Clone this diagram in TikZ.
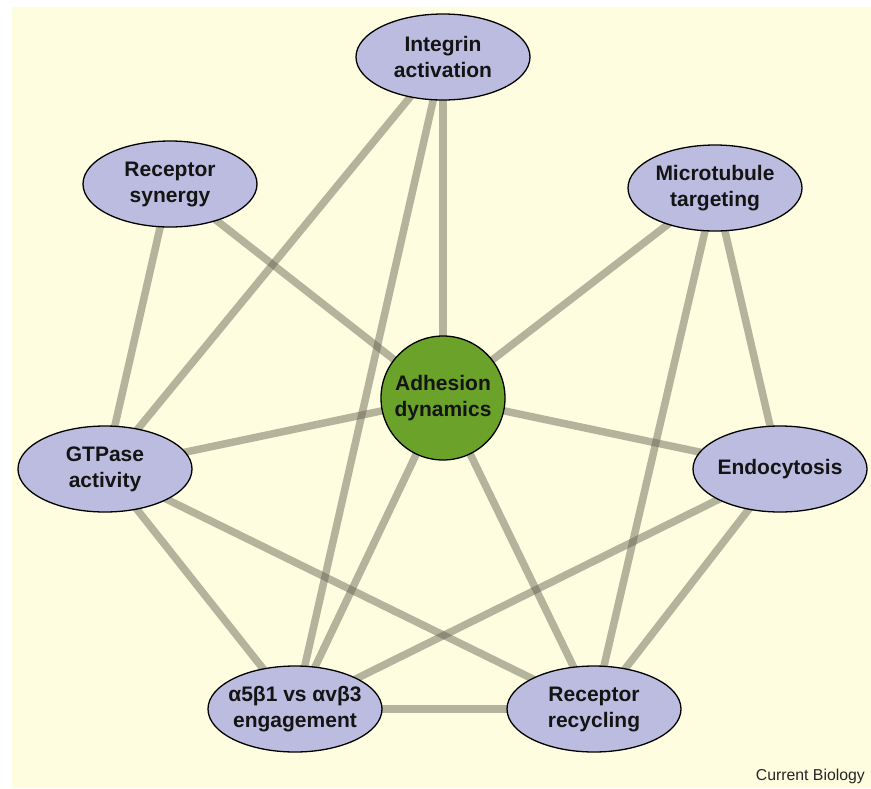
\documentclass[tikz,border=0pt]{standalone}
\usepackage{fontspec}
\setmainfont{Liberation Sans}
\usetikzlibrary{shapes.geometric}
\definecolor{bgc}{RGB}{254,253,224}
\definecolor{lav}{RGB}{188,188,224}
\definecolor{grn}{RGB}{106,162,42}
\definecolor{edgec}{RGB}{97,97,80}
\tikzset{
  topic/.style={ellipse,draw=black,line width=1.3pt,fill=lav,minimum width=174pt,minimum height=86pt,inner xsep=-30pt,inner ysep=-10pt,
    font=\fontsize{21}{26}\selectfont\bfseries,align=center,text=black!92},
  hub/.style={circle,draw=black,line width=1.3pt,fill=grn,minimum size=124pt,inner sep=0pt,
    font=\fontsize{21}{26}\selectfont\bfseries,align=center,text=black!92},
  link/.style={draw=edgec,line width=7.5pt,opacity=0.47}
}
\begin{document}
\begin{tikzpicture}[x=1pt,y=-1pt]
\useasboundingbox (0,0) rectangle (871,788);
\fill[white] (0,0) rectangle (871,788);
\fill[bgc] (12,7) rectangle (871,788);
\coordinate (pInt) at (443,57);
\coordinate (pSyn) at (170,184);
\coordinate (pMic) at (715,188);
\coordinate (pAdh) at (443,398);
\coordinate (pGTP) at (105,469);
\coordinate (pEnd) at (780,469);
\coordinate (pAlp) at (295,709);
\coordinate (pRec) at (594,709);
\foreach \a/\b in {Int/Adh,Int/GTP,Int/Alp,Syn/Adh,Syn/GTP,Mic/Adh,Mic/Rec,Mic/End,GTP/Adh,GTP/Alp,GTP/Rec,Adh/End,Adh/Rec,Adh/Alp,End/Alp,End/Rec,Alp/Rec}
  \draw[link] (p\a) -- (p\b);
\node[topic] (Int) at (pInt) {Integrin\\activation};
\node[topic] (Syn) at (pSyn) {Receptor\\synergy};
\node[topic] (Mic) at (pMic) {Microtubule\\targeting};
\node[hub] (Adh) at (pAdh) {Adhesion\\dynamics};
\node[topic] (GTP) at (pGTP) {GTPase\\activity};
\node[topic] (End) at (pEnd) {Endocytosis};
\node[topic] (Alp) at (pAlp) {α5β1 vs αvβ3\\engagement};
\node[topic] (Rec) at (pRec) {Receptor\\recycling};
\node[anchor=base east,font=\fontsize{15.8}{18}\selectfont,text=black!85,inner sep=0pt] (cb) at (865,780) {Current Biology};
\end{tikzpicture}
\end{document}
